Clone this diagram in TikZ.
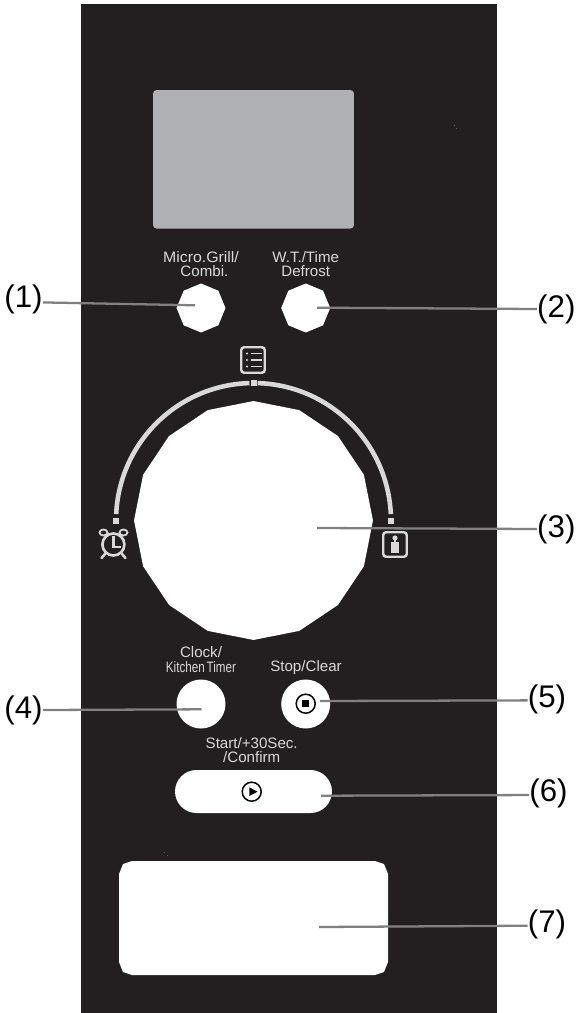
\documentclass[tikz,border=0pt]{standalone}
\usepackage{fontspec}
\setmainfont{Liberation Sans}
\usetikzlibrary{shapes.geometric}
\definecolor{panelc}{HTML}{231F20}
\definecolor{screenc}{HTML}{B0B1B5}
\definecolor{markc}{HTML}{D9D9D9}
\definecolor{leadc}{HTML}{808080}
\definecolor{speckc}{HTML}{3F7F1F}

\begin{document}
\begin{tikzpicture}[x=0.02cm,y=-0.02cm,
		knob/.style={regular polygon,regular polygon sides=8,shape border rotate=22.5,fill=white,minimum size=0.98cm,inner sep=0pt},
		roundbtn/.style={circle,fill=white,minimum size=0.98cm,inner sep=0pt},
		iconbox/.style={draw=markc,line width=1.4pt,rounded corners=1.6pt,minimum width=0.47cm,inner sep=0pt},
		tick/.style={fill=markc,minimum size=0.12cm,inner sep=0pt},
		keytext/.style={text=markc,align=center,inner sep=0pt,font=\fontsize{8.6}{8}\selectfont},
		numtext/.style={inner sep=0pt,font=\fontsize{17.8}{19}\selectfont},
		leader/.style={draw=leadc,line width=1.3pt},
		ringline/.style={draw=markc,line width=2.6pt},
		iconline/.style={draw=markc,line width=1.5pt},
		blackline/.style={draw=black,line width=0.85pt}]
		\useasboundingbox (0,0) rectangle (576,1013);
		\fill[panelc] (81,4) rectangle (497,1013);
		\fill[speckc] (453.5,125.5) rectangle (454.5,126.5);
		\fill[speckc] (456,128) rectangle (457,129);
		\fill[speckc] (163.5,852) rectangle (164.5,853);
		\fill[speckc] (167,855) rectangle (168,856);
		\node[fill=screenc,rounded corners=2pt,minimum width=4.02cm,minimum height=2.77cm,inner sep=0pt] (screen) at (253.5,159.3) {};
		\node[keytext] (lab_micro) at (201,264) {\scalebox{1.05}[1]{Micro.Grill/}\\\hspace*{0.45em}Combi.};
		\node[keytext] (lab_wt) at (305.7,264) {W.T./Time\\Defrost};
		\node[knob] (knob_a) at (201,308) {};
		\node[knob] (knob_b) at (305.7,308) {};
		\coordinate (dial_c) at (253.5,520.5);
		\node[regular polygon,regular polygon sides=16,shape border rotate=11.25,fill=white,minimum size=4.78cm,inner sep=0pt] (dial) at (dial_c) {};
		\draw[ringline] (dial_c) ++(177.3:2.75cm) arc[start angle=177.3,end angle=91.7,radius=2.75cm];
		\draw[ringline] (dial_c) ++(88.3:2.75cm) arc[start angle=88.3,end angle=2.7,radius=2.75cm];
		\node[tick] (tick_l) at (116,520.5) {};
		\node[tick] (tick_t) at (253.5,383) {};
		\node[tick] (tick_r) at (391,520.5) {};
		\node[iconbox,minimum height=0.51cm] (menu_icon) at (253,360) {};
		\foreach \yy in {353.5,360,366.5} {
			\fill[markc] (247,\yy) circle (1.1);
			\draw[markc,line width=0.7pt] (251,\yy) -- (262,\yy);
		}
		\node[circle,iconline,minimum size=0.44cm,inner sep=0pt] (clock_icon) at (113.4,544.5) {};
		\draw[markc,line width=1pt] (103.5,532.5) ellipse (4 and 3);
		\draw[markc,line width=1pt] (123.5,532.5) ellipse (4 and 3);
		\draw[iconline,line cap=round] (105,554) -- (101.5,558);
		\draw[iconline,line cap=round] (122,554) -- (125.5,558);
		\draw[iconline] (113.4,536) -- (113.4,547) -- (121,547);
		\node[iconbox,minimum height=0.49cm] (weight_icon) at (395,544.5) {};
		\fill[markc] (395,538) circle (2.6);
		\fill[markc] (393.8,539) rectangle (396.2,542);
		\fill[markc] (390.8,541.5) rectangle (398.8,553);
		\node[keytext] (lab_clock) at (201,659.5) {Clock/\\[0.6pt]\scalebox{0.77}[1]{Kitchen\,Timer}};
		\node[keytext] (lab_stop) at (306,668) {Stop/Clear};
		\node[roundbtn] (btn_clock) at (201,704) {};
		\node[roundbtn] (btn_stop) at (305.7,704) {};
		\node[circle,blackline,fill=white,minimum size=0.38cm,inner sep=0pt] (stop_ring) at (305.7,703.7) {};
		\fill[black] (302.2,700.2) rectangle (309.4,707.3);
		\node[keytext] (lab_start) at (251.7,750) {Start/+30Sec.\\/Confirm};
		\node[fill=white,rounded corners=0.43cm,minimum width=3.14cm,minimum height=0.86cm,inner sep=0pt] (btn_start) at (253.5,791.5) {};
		\node[circle,blackline,minimum size=0.38cm,inner sep=0pt] (play_ring) at (251.7,791.7) {};
		\fill[black] (249.3,787.3) -- (257.5,791.7) -- (249.3,796) -- cycle;
		\fill[white] (119,874) -- (123,864) -- (132,861) -- (375,861) -- (384,864) -- (388,874) -- (388,962) -- (384,972) -- (375,975) -- (132,975) -- (123,972) -- (119,962) -- cycle;
		\node[numtext] (num1) at (23.5,299) {(1)};
		\node[numtext] (num2) at (556.3,309) {(2)};
		\node[numtext] (num3) at (556.3,529) {(3)};
		\node[numtext] (num4) at (23.5,710) {(4)};
		\node[numtext] (num5) at (547,699) {(5)};
		\node[numtext] (num6) at (548.5,793) {(6)};
		\node[numtext] (num7) at (547,924) {(7)};
		\coordinate (tip1) at (195,305.3);
		\coordinate (tip2) at (317,307.7);
		\coordinate (tip3) at (317,528);
		\coordinate (tip4) at (201.7,709.3);
		\coordinate (tip5) at (320,701);
		\coordinate (tip6) at (321,795.7);
		\coordinate (tip7) at (319,927);
		\draw[leader] (num1.-10) -- (tip1);
		\draw[leader] (num2.west) -- (tip2);
		\draw[leader] (num3.west) -- (tip3);
		\draw[leader] (num4.east) -- (tip4);
		\draw[leader] (num5.184) -- (tip5);
		\draw[leader] (num6.186) -- (tip6);
		\draw[leader] (num7.185) -- (tip7);
	\end{tikzpicture}
\end{document}
